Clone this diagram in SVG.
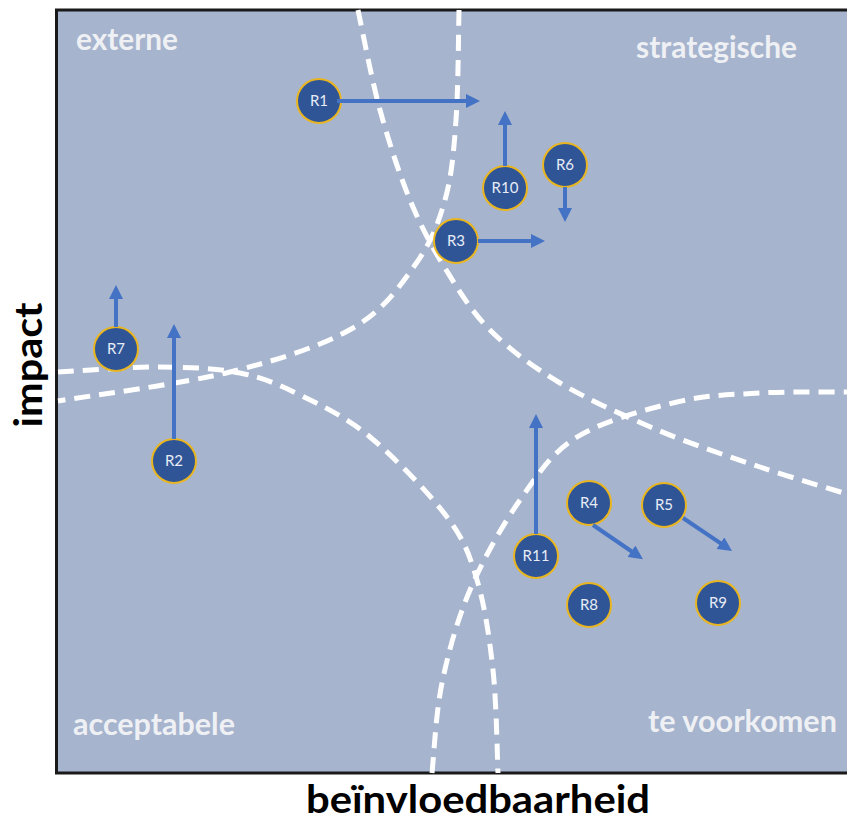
<svg xmlns="http://www.w3.org/2000/svg" width="847" height="822" viewBox="0 0 847 822">
<style>
.zone{fill:#EEF0F4;font-family:Lato,"Open Sans","Liberation Sans",sans-serif;font-weight:bold;font-size:30px}
.axis{fill:#000;font-family:Lato,"Open Sans","Liberation Sans",sans-serif;font-weight:bold;font-size:39px}
.curve{fill:none;stroke:#FFFFFF;stroke-width:5;stroke-dasharray:16 9}
.node circle{fill:#2F5597;stroke:#E9B520;stroke-width:2}
.node text{fill:#E8ECF5;font-family:Lato,"Open Sans","Liberation Sans",sans-serif;font-size:15px;text-anchor:middle}
.arrow{stroke:#4472C4;stroke-width:4;fill:none;marker-end:url(#ah)}
</style>
<defs>
<marker id="ah" markerUnits="userSpaceOnUse" markerWidth="15" markerHeight="14" refX="4" refY="7" orient="auto">
<path d="M0,0 L14,7 L0,14 z" fill="#4472C4"/>
</marker>
</defs>
<rect width="847" height="822" fill="#FFFFFF"/>
<rect x="56.5" y="10" width="800" height="763" fill="#A6B4CE" stroke="#1A1A1A" stroke-width="3"/>
<g id="zone-labels">
<text class="zone" x="76" y="50" textLength="102" lengthAdjust="spacingAndGlyphs">externe</text>
<text class="zone" x="636" y="58" textLength="161" lengthAdjust="spacingAndGlyphs">strategische</text>
<text class="zone" x="73" y="735" textLength="162" lengthAdjust="spacingAndGlyphs">acceptabele</text>
<text class="zone" x="648" y="732" textLength="189" lengthAdjust="spacingAndGlyphs">te voorkomen</text>
</g>
<g id="boundaries">
<path class="curve" d="M459,10 C458.5,28 458.3,88.3 456,120 C453.7,151.7 451.8,175.8 445,200 C438.2,224.2 430.3,243.7 415,265 C399.7,286.3 383.8,310.2 353,328 C322.2,345.8 279.2,359.8 230,372 C180.8,384.2 86.7,396.2 58,401"/>
<path class="curve" d="M358,10 C361.7,26.7 371.3,78.3 380,110 C388.7,141.7 399.2,173.7 410,200 C420.8,226.3 431.7,246.3 445,268 C458.3,289.7 470.8,310.8 490,330 C509.2,349.2 531.7,366.2 560,383 C588.3,399.8 626.7,417 660,431 C693.3,445 728.8,456.5 760,467 C791.2,477.5 832.5,489.5 847,494"/>
<path class="curve" d="M58,372 C75,371.2 129.7,366.8 160,367 C190.3,367.2 216.7,368.3 240,373 C263.3,377.7 278.3,384.3 300,395 C321.7,405.7 345.5,416.7 370,437 C394.5,457.3 429.2,493.2 447,517 C464.8,540.8 469.3,554.5 477,580 C484.7,605.5 489.5,637.8 493,670 C496.5,702.2 497.2,755.8 498,773"/>
<path class="curve" d="M432,773 C433.7,758 435.7,713.5 442,683 C448.3,652.5 457,620.5 470,590 C483,559.5 502.2,525.5 520,500 C537.8,474.5 550.8,453.3 577,437 C603.2,420.7 646.5,409.3 677,402 C707.5,394.7 731.7,394.7 760,393 C788.3,391.3 832.5,392.2 847,392"/>
</g>
<g id="R1" class="node"><circle cx="319" cy="101" r="22"/><text x="319" y="106">R1</text></g>
<g id="R10" class="node"><circle cx="505" cy="188" r="22"/><text x="505" y="193">R10</text></g>
<g id="R6" class="node"><circle cx="565" cy="165" r="22"/><text x="565" y="170">R6</text></g>
<g id="R3" class="node"><circle cx="456" cy="241" r="22"/><text x="456" y="246">R3</text></g>
<g id="R7" class="node"><circle cx="116" cy="349" r="22"/><text x="116" y="354">R7</text></g>
<g id="R2" class="node"><circle cx="174" cy="461" r="22"/><text x="174" y="466">R2</text></g>
<g id="R11" class="node"><circle cx="536" cy="556" r="22"/><text x="536" y="561">R11</text></g>
<g id="R4" class="node"><circle cx="589" cy="503" r="22"/><text x="589" y="508">R4</text></g>
<g id="R5" class="node"><circle cx="664" cy="505" r="22"/><text x="664" y="510">R5</text></g>
<g id="R8" class="node"><circle cx="589" cy="605" r="22"/><text x="589" y="610">R8</text></g>
<g id="R9" class="node"><circle cx="718" cy="603" r="22"/><text x="718" y="608">R9</text></g>
<g id="connectors">
<path class="arrow" d="M337,101 L470,101"/>
<path class="arrow" d="M505,166 L505,121"/>
<path class="arrow" d="M565,187 L565,212"/>
<path class="arrow" d="M478,241 L535,241"/>
<path class="arrow" d="M116,327 L116,295"/>
<path class="arrow" d="M174,439 L174,334"/>
<path class="arrow" d="M536,534 L536,424"/>
<path class="arrow" d="M593,525 L634.7,553.5"/>
<path class="arrow" d="M683,518 L723.7,545.4"/>
</g>
<g id="axes">
<text class="axis" x="306" y="813" textLength="344" lengthAdjust="spacingAndGlyphs">beïnvloedbaarheid</text>
<text class="axis" transform="translate(42,365) rotate(-90)" x="0" y="0" text-anchor="middle" textLength="125" lengthAdjust="spacingAndGlyphs">impact</text>
</g>
</svg>
